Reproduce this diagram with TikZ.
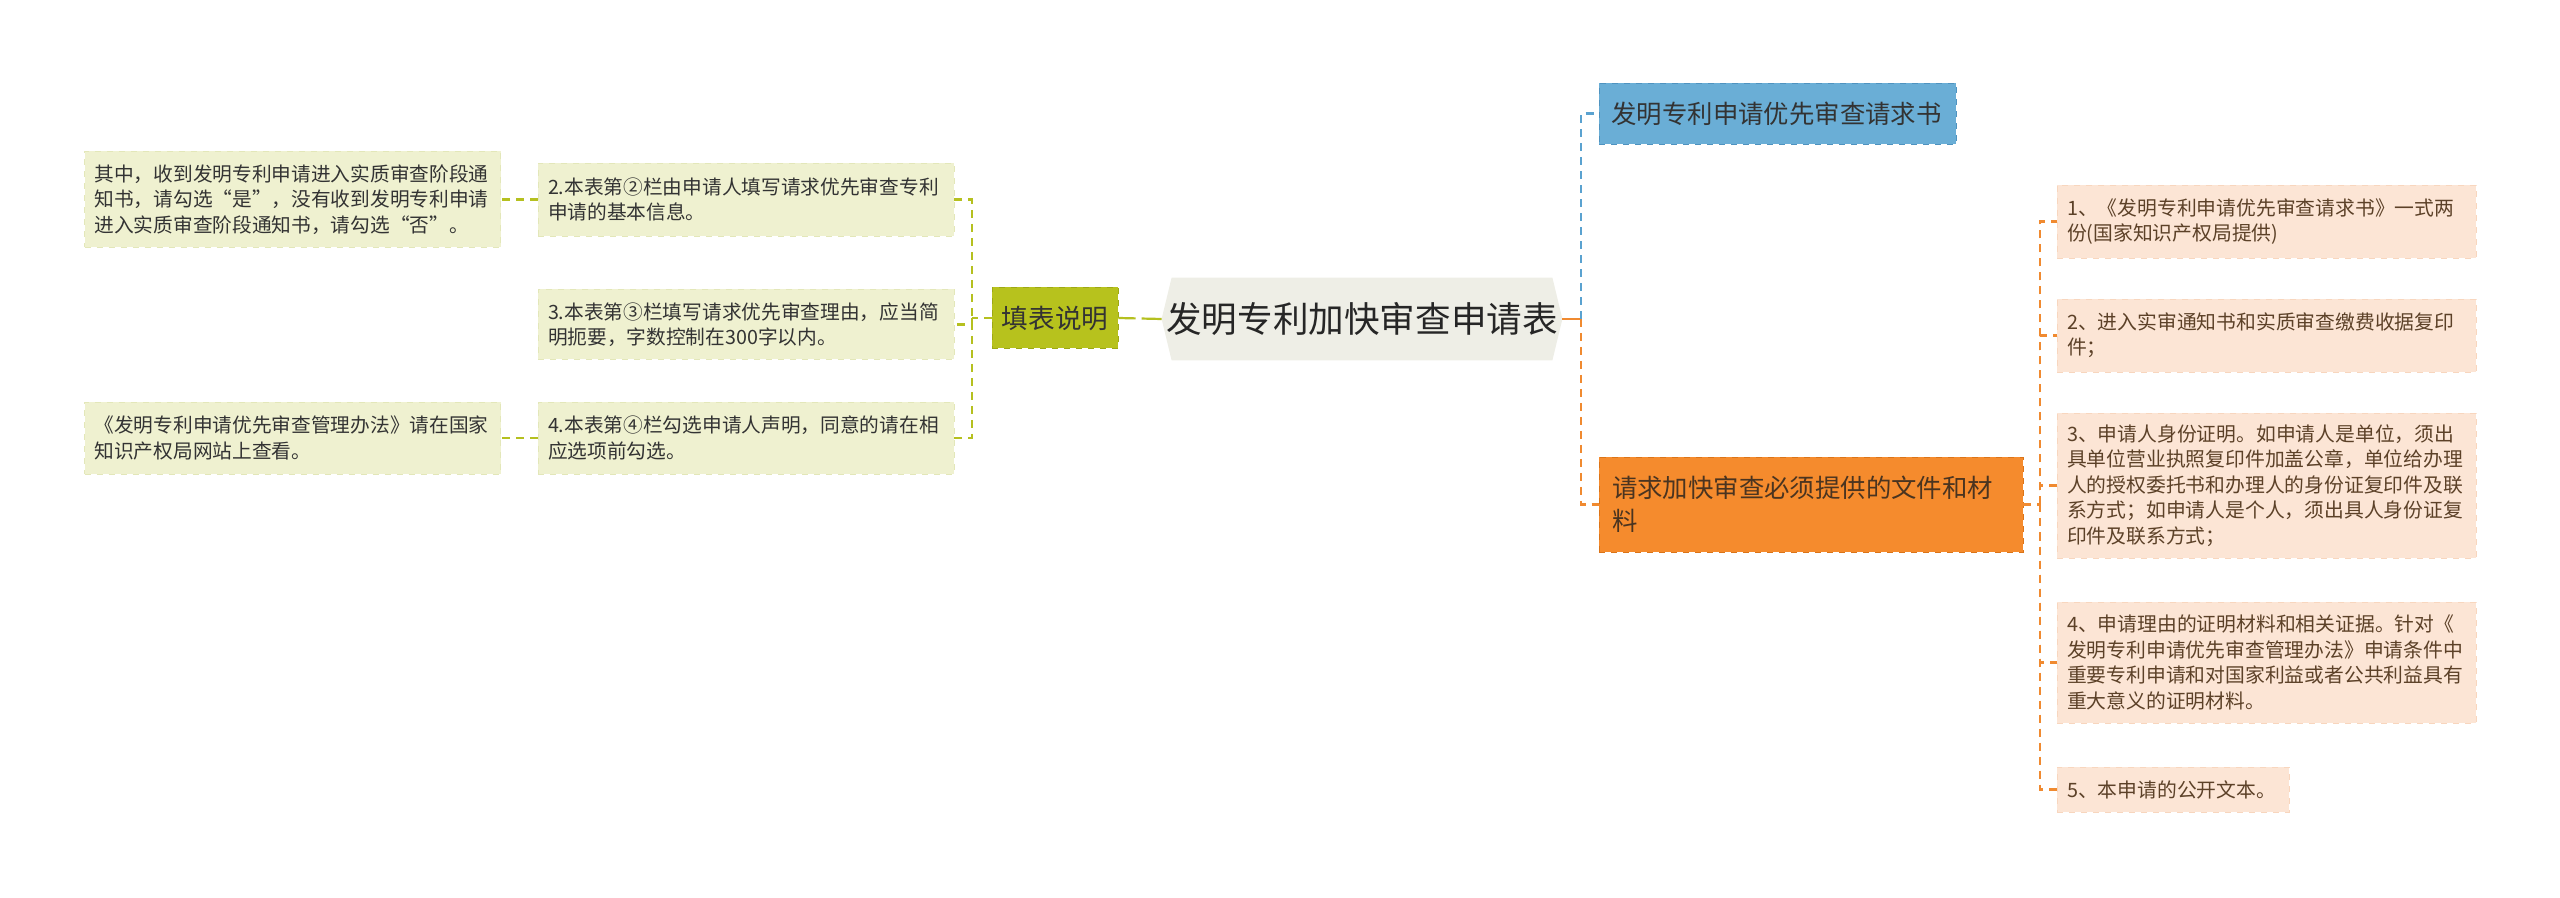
\documentclass[tikz,border=0pt]{standalone}
\usepackage{fontspec}
\setmainfont{Noto Sans CJK SC}
\usetikzlibrary{positioning, backgrounds}

\definecolor{leftfill}{HTML}{EFF1D0}
\definecolor{leftdraw}{HTML}{E3E7B9}
\definecolor{tagfill}{HTML}{B7C21D}
\definecolor{tagdraw}{HTML}{9DA815}
\definecolor{rootfill}{HTML}{EEEEE6}
\definecolor{bluefill}{HTML}{6AAED6}
\definecolor{bluedraw}{HTML}{4F93C0}
\definecolor{orangefill}{HTML}{F58B2D}
\definecolor{orangedraw}{HTML}{DB7418}
\definecolor{peachfill}{HTML}{FCE5D5}
\definecolor{peachdraw}{HTML}{F8D6BE}
\definecolor{greenline}{HTML}{B5C01F}
\definecolor{blueline}{HTML}{5AA2D0}
\definecolor{orangeline}{HTML}{F08A30}
\definecolor{darktext}{HTML}{333333}
\definecolor{browntext}{HTML}{5C4128}

\begin{document}
\begin{tikzpicture}[
    x=0.5pt, y=-0.5pt,
    rootnode/.style={minimum width=200pt, minimum height=41pt, inner sep=0pt, align=center, text=black!85, font=\fontsize{17.8pt}{21pt}\selectfont},
    tagnode/.style={draw=tagdraw, dashed, fill=tagfill, minimum width=63pt, minimum height=30.5pt, inner sep=0pt, align=center, text=darktext, font=\fontsize{13.3pt}{16pt}\selectfont},
    leftbox/.style={draw=leftdraw, dashed, fill=leftfill, text width=198pt, inner xsep=5pt, inner ysep=0pt, align=left, text=darktext, font=\fontsize{9.85pt}{12.7pt}\selectfont},
    bluenode/.style={draw=bluedraw, dashed, fill=bluefill, text width=166pt, inner xsep=6.25pt, inner ysep=0pt, minimum height=30.5pt, align=left, text=black!80, font=\fontsize{12.7pt}{16pt}\selectfont},
    orangenode/.style={draw=orangedraw, dashed, fill=orangefill, text width=199pt, inner xsep=6.5pt, inner ysep=0pt, minimum height=47.5pt, align=left, text=browntext!80!black, font=\fontsize{12.7pt}{16.5pt}\selectfont},
    rightbox/.style={draw=peachdraw, dashed, fill=peachfill, text width=199.5pt, inner xsep=5pt, inner ysep=0pt, align=left, text=browntext, font=\fontsize{9.9pt}{12.7pt}\selectfont},
    greenconn/.style={draw=greenline, line width=1.1pt, dash pattern=on 4pt off 3pt},
    blueconn/.style={draw=blueline, line width=1.1pt, dash pattern=on 4pt off 3pt},
    orangeconn/.style={draw=orangeline, line width=1.1pt, dash pattern=on 4pt off 3pt}
]

\useasboundingbox (0,0) rectangle (2560,898);

% Root
\node[rootnode] (root) at (1362, 319) {发明专利加快审查申请表};
\begin{scope}[on background layer]
\fill[rootfill] ([xshift=5pt]root.north west) -- ([xshift=-5pt]root.north east) -- (root.east) -- ([xshift=-5pt]root.south east) -- ([xshift=5pt]root.south west) -- (root.west) -- cycle;
\end{scope}

% Left branch
\node[tagnode] (tag) at (1055, 318) {填表说明};
\node[leftbox, minimum height=36.5pt] (l2) at (746, 199.5) {2.本表第②栏由申请人填写请求优先审查专利\\申请的基本信息。};
\node[leftbox, minimum height=35pt] (l3) at (746, 324.5) {3.本表第③栏填写请求优先审查理由，应当简\\明扼要，字数控制在300字以内。};
\node[leftbox, minimum height=36pt] (l4) at (746, 438) {4.本表第④栏勾选申请人声明，同意的请在相\\应选项前勾选。};
\node[leftbox, minimum height=48pt] (l1) at (292.5, 199.5) {其中，收到发明专利申请进入实质审查阶段通\\知书，请勾选“是”，没有收到发明专利申请\\进入实质审查阶段通知书，请勾选“否”。};
\node[leftbox, minimum height=36pt] (l5) at (292.5, 438) {《发明专利申请优先审查管理办法》请在国家\\知识产权局网站上查看。};

\coordinate (ltrunk) at (972, 318);
\draw[greenconn, dash pattern=on 10pt off 3pt] (root.west) -- (tag.east);
\draw[greenconn] (tag.west) -- (ltrunk);
\draw[greenconn] (l2.east) -| (ltrunk) |- (l4.east);
\draw[greenconn] (ltrunk) |- (l3.east);
\draw[greenconn] (l2.west) -- (l1.east);
\draw[greenconn] (l4.west) -- (l5.east);

% Right branch
\node[bluenode] (req) at (1777.5, 113.5) {发明专利申请优先审查请求书};
\node[orangenode] (docs) at (1811, 504.5) {请求加快审查必须提供的文件和材\\料};

\node[rightbox, minimum height=36.5pt] (r1) at (2266.5, 221.5) {1、《发明专利申请优先审查请求书》一式两\\份(国家知识产权局提供)};
\node[rightbox, minimum height=36.5pt] (r2) at (2266.5, 335.5) {2、进入实审通知书和实质审查缴费收据复印\\件；};
\node[rightbox, minimum height=72.5pt] (r3) at (2266.5, 485.5) {3、申请人身份证明。如申请人是单位，须出\\具单位营业执照复印件加盖公章，单位给办理\\人的授权委托书和办理人的身份证复印件及联\\系方式；如申请人是个人，须出具人身份证复\\印件及联系方式；};
\node[rightbox, minimum height=60.5pt] (r4) at (2266.5, 662.5) {4、申请理由的证明材料和相关证据。针对《\\发明专利申请优先审查管理办法》申请条件中\\重要专利申请和对国家利益或者公共利益具有\\重大意义的证明材料。};
\node[rightbox, text width=106pt, minimum height=22.5pt] (r5) at (2173, 789.5) {5、本申请的公开文本。};

\coordinate (rtrunk) at (1581, 319);
\draw[orangeconn, solid] (root.east) -- (rtrunk);
\draw[orangeconn] (rtrunk) |- (docs.west);
\draw[blueconn] (rtrunk) |- (req.west);

\coordinate (dtrunk) at (2040, 504.5);
\draw[orangeconn] (docs.east) -- (dtrunk);
\foreach \n in {1,...,5}
    \draw[orangeconn] (dtrunk) |- (r\n.west);

\end{tikzpicture}
\end{document}
